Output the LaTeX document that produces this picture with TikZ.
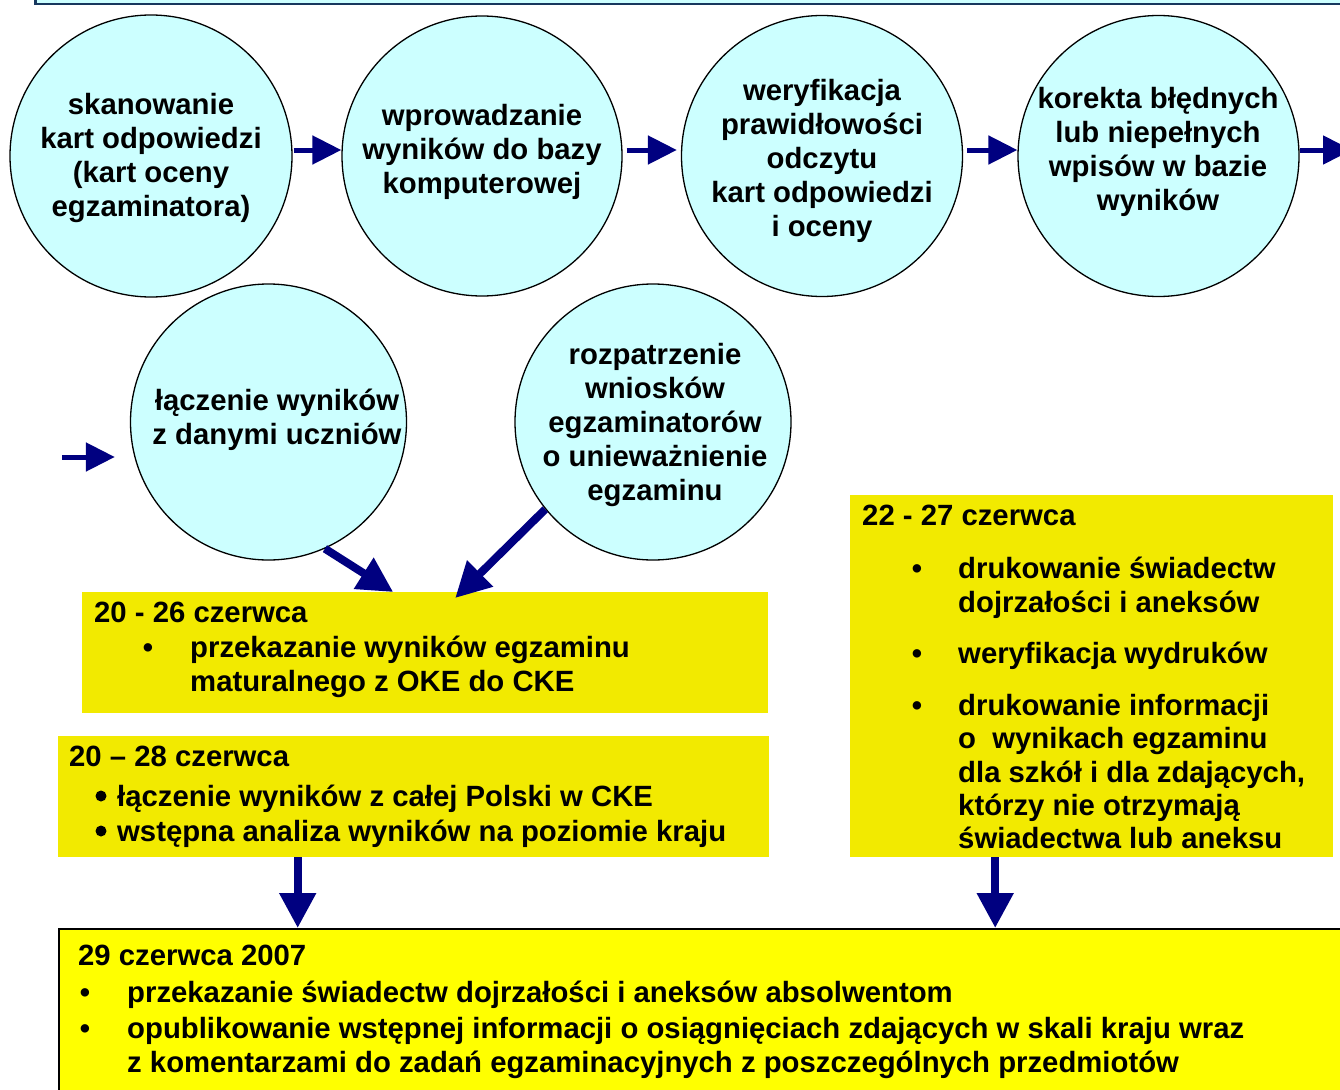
\documentclass[tikz,border=0pt]{standalone}
\usepackage{fontspec}
\setmainfont{Liberation Sans}
\usetikzlibrary{arrows.meta}
\definecolor{cfill}{HTML}{CCFFFF}
\definecolor{navyarr}{HTML}{000080}
\definecolor{ylw}{RGB}{242,234,0}
\definecolor{ylwb}{HTML}{FFFF00}
\definecolor{topb}{RGB}{23,55,94}
\begin{document}
\begin{tikzpicture}[x=1pt,y=-1pt,
 bigfont/.style={font=\bfseries\fontsize{29.3}{34}\selectfont},
 circ/.style={circle, draw=black, line width=1.3pt, fill=cfill, minimum size=#1, inner sep=0pt},
 ctext/.style={bigfont, align=center, inner sep=0pt},
 ybox/.style={fill=ylw, inner sep=0pt, anchor=north west},
 txt/.style={bigfont, anchor=base west, inner sep=0pt},
 bul/.style={bigfont, anchor=base, inner sep=0pt},
 dotbul/.style={circle, fill=black, inner sep=0pt, minimum size=11pt},
 sarr/.style={draw=navyarr, line width=5pt, -{Triangle[length=29pt,width=28pt]}},
 barr/.style={draw=navyarr, line width=8pt, -{Triangle[length=35pt,width=35pt]}},
]
\useasboundingbox (0,0) rectangle (1340,1089);
\clip (0,0) rectangle (1340,1089);

% top strip
\node[fill=cfill, draw=topb, line width=2.5pt, anchor=south west, minimum width=1340pt, minimum height=40pt, inner sep=0pt] (topbox) at (34,5.5) {};

% circles
\node[circ=282pt] (c1) at (151,156) {};
\node[circ=280pt] (c2) at (482,156) {};
\node[circ=281pt] (c3) at (822,156) {};
\node[circ=281pt] (c4) at (1158.5,156) {};
\node[circ=276pt] (c5) at (268.5,422) {};
\node[circ=276pt] (c6) at (653,422) {};

\node[ctext] (t1) at (151,158) {skanowanie\\kart odpowiedzi\\(kart oceny\\egzaminatora)};
\node[ctext] (t2) at (482,152) {wprowadzanie\\wyników do bazy\\komputerowej};
\node[ctext] (t3) at (822,161) {weryfikacja\\prawidłowości\\odczytu\\kart odpowiedzi\\i oceny};
\node[ctext] (t4) at (1158,152) {korekta błędnych\\lub niepełnych\\wpisów w bazie\\wyników};
\node[ctext] (t5) at (277,420) {łączenie wyników\\z danymi uczniów};
\node[ctext] (t6) at (655,425) {rozpatrzenie\\wniosków\\egzaminatorów\\o unieważnienie\\egzaminu};

% off-picture ends
\coordinate (offR) at (1352,150);
\coordinate (offL) at (62,457);

% top row arrows
\draw[sarr, shorten <=1pt] ([yshift=6pt]c1.east) -- ([yshift=6pt]c2.west);
\draw[sarr, shorten <=4pt, shorten >=4pt] ([yshift=6pt]c2.east) -- ([yshift=6pt]c3.west);
\draw[sarr, shorten <=4pt] ([yshift=6pt]c3.east) -- ([yshift=6pt]c4.west);
\draw[sarr] ([yshift=6pt]c4.east) -- (offR);
\draw[sarr, shorten >=15pt] (offL) -- ([yshift=-35pt]c5.west);

% yellow boxes
\node[ybox, minimum width=686pt, minimum height=121pt] (boxA) at (82,592) {};
\node[ybox, minimum width=711pt, minimum height=121pt] (boxB) at (58,736) {};
\node[ybox, minimum width=483pt, minimum height=362pt] (boxC) at (850,495) {};
\node[fill=ylwb, draw=black, line width=1.6pt, inner sep=0pt, anchor=north west, minimum width=1300pt, minimum height=180pt] (boxD) at (58,928) {};

% diagonal arrows into box A
\draw[barr] (c5.-66) -- ([xshift=-32pt]boxA.north);
\draw[barr] (c6.219) -- ([xshift=30pt,yshift=-6pt]boxA.north);

% vertical arrows into box D
\draw[barr] ([xshift=-116pt]boxB.south) -- ([xshift=-116pt]boxB.south |- boxD.north);
\draw[barr] ([xshift=-96.5pt]boxC.south) -- ([xshift=-96.5pt]boxC.south |- boxD.north);

% box A text
\node[txt] (a0) at (94,622) {20 - 26 czerwca};
\node[bul] (ab1) at (148,657) {\textbullet};
\node[txt] (a1) at (190,657) {przekazanie wyników egzaminu};
\node[txt] (a2) at (190,691) {maturalnego z OKE do CKE};

% box B text
\node[txt] (b0) at (69,766) {20 – 28 czerwca};
\node[dotbul] (bb1) at (101,796) {};
\node[txt] (b1) at (117,806) {łączenie wyników z całej Polski w CKE};
\node[dotbul] (bb2) at (101,831) {};
\node[txt] (b2) at (117,841) {wstępna analiza wyników na poziomie kraju};

% box C text
\node[txt] (k0) at (862,525) {22 - 27 czerwca};
\node[bul] (kb1) at (917,578) {\textbullet};
\node[txt] (k1) at (958,578) {drukowanie świadectw};
\node[txt] (k2) at (958,612) {dojrzałości i aneksów};
\node[bul] (kb2) at (917,663) {\textbullet};
\node[txt] (k3) at (958,663) {weryfikacja wydruków};
\node[bul] (kb3) at (917,715) {\textbullet};
\node[txt] (k4) at (958,715) {drukowanie informacji};
\node[txt] (k5) at (958,748) {o\ \ wynikach egzaminu};
\node[txt] (k6) at (958,782) {dla szkół i dla zdających,};
\node[txt] (k7) at (958,815) {którzy nie otrzymają};
\node[txt] (k8) at (958,848) {świadectwa lub aneksu};

% box D text
\node[txt] (d0) at (78,965) {29 czerwca 2007};
\node[bul] (db1) at (85,1002) {\textbullet};
\node[txt] (d1) at (127,1002) {przekazanie świadectw dojrzałości i aneksów absolwentom};
\node[bul] (db2) at (85,1038) {\textbullet};
\node[txt] (d2) at (127,1038) {opublikowanie wstępnej informacji o osiągnięciach zdających w skali kraju wraz};
\node[txt] (d3) at (127,1072) {z komentarzami do zadań egzaminacyjnych z poszczególnych przedmiotów};
\end{tikzpicture}
\end{document}
